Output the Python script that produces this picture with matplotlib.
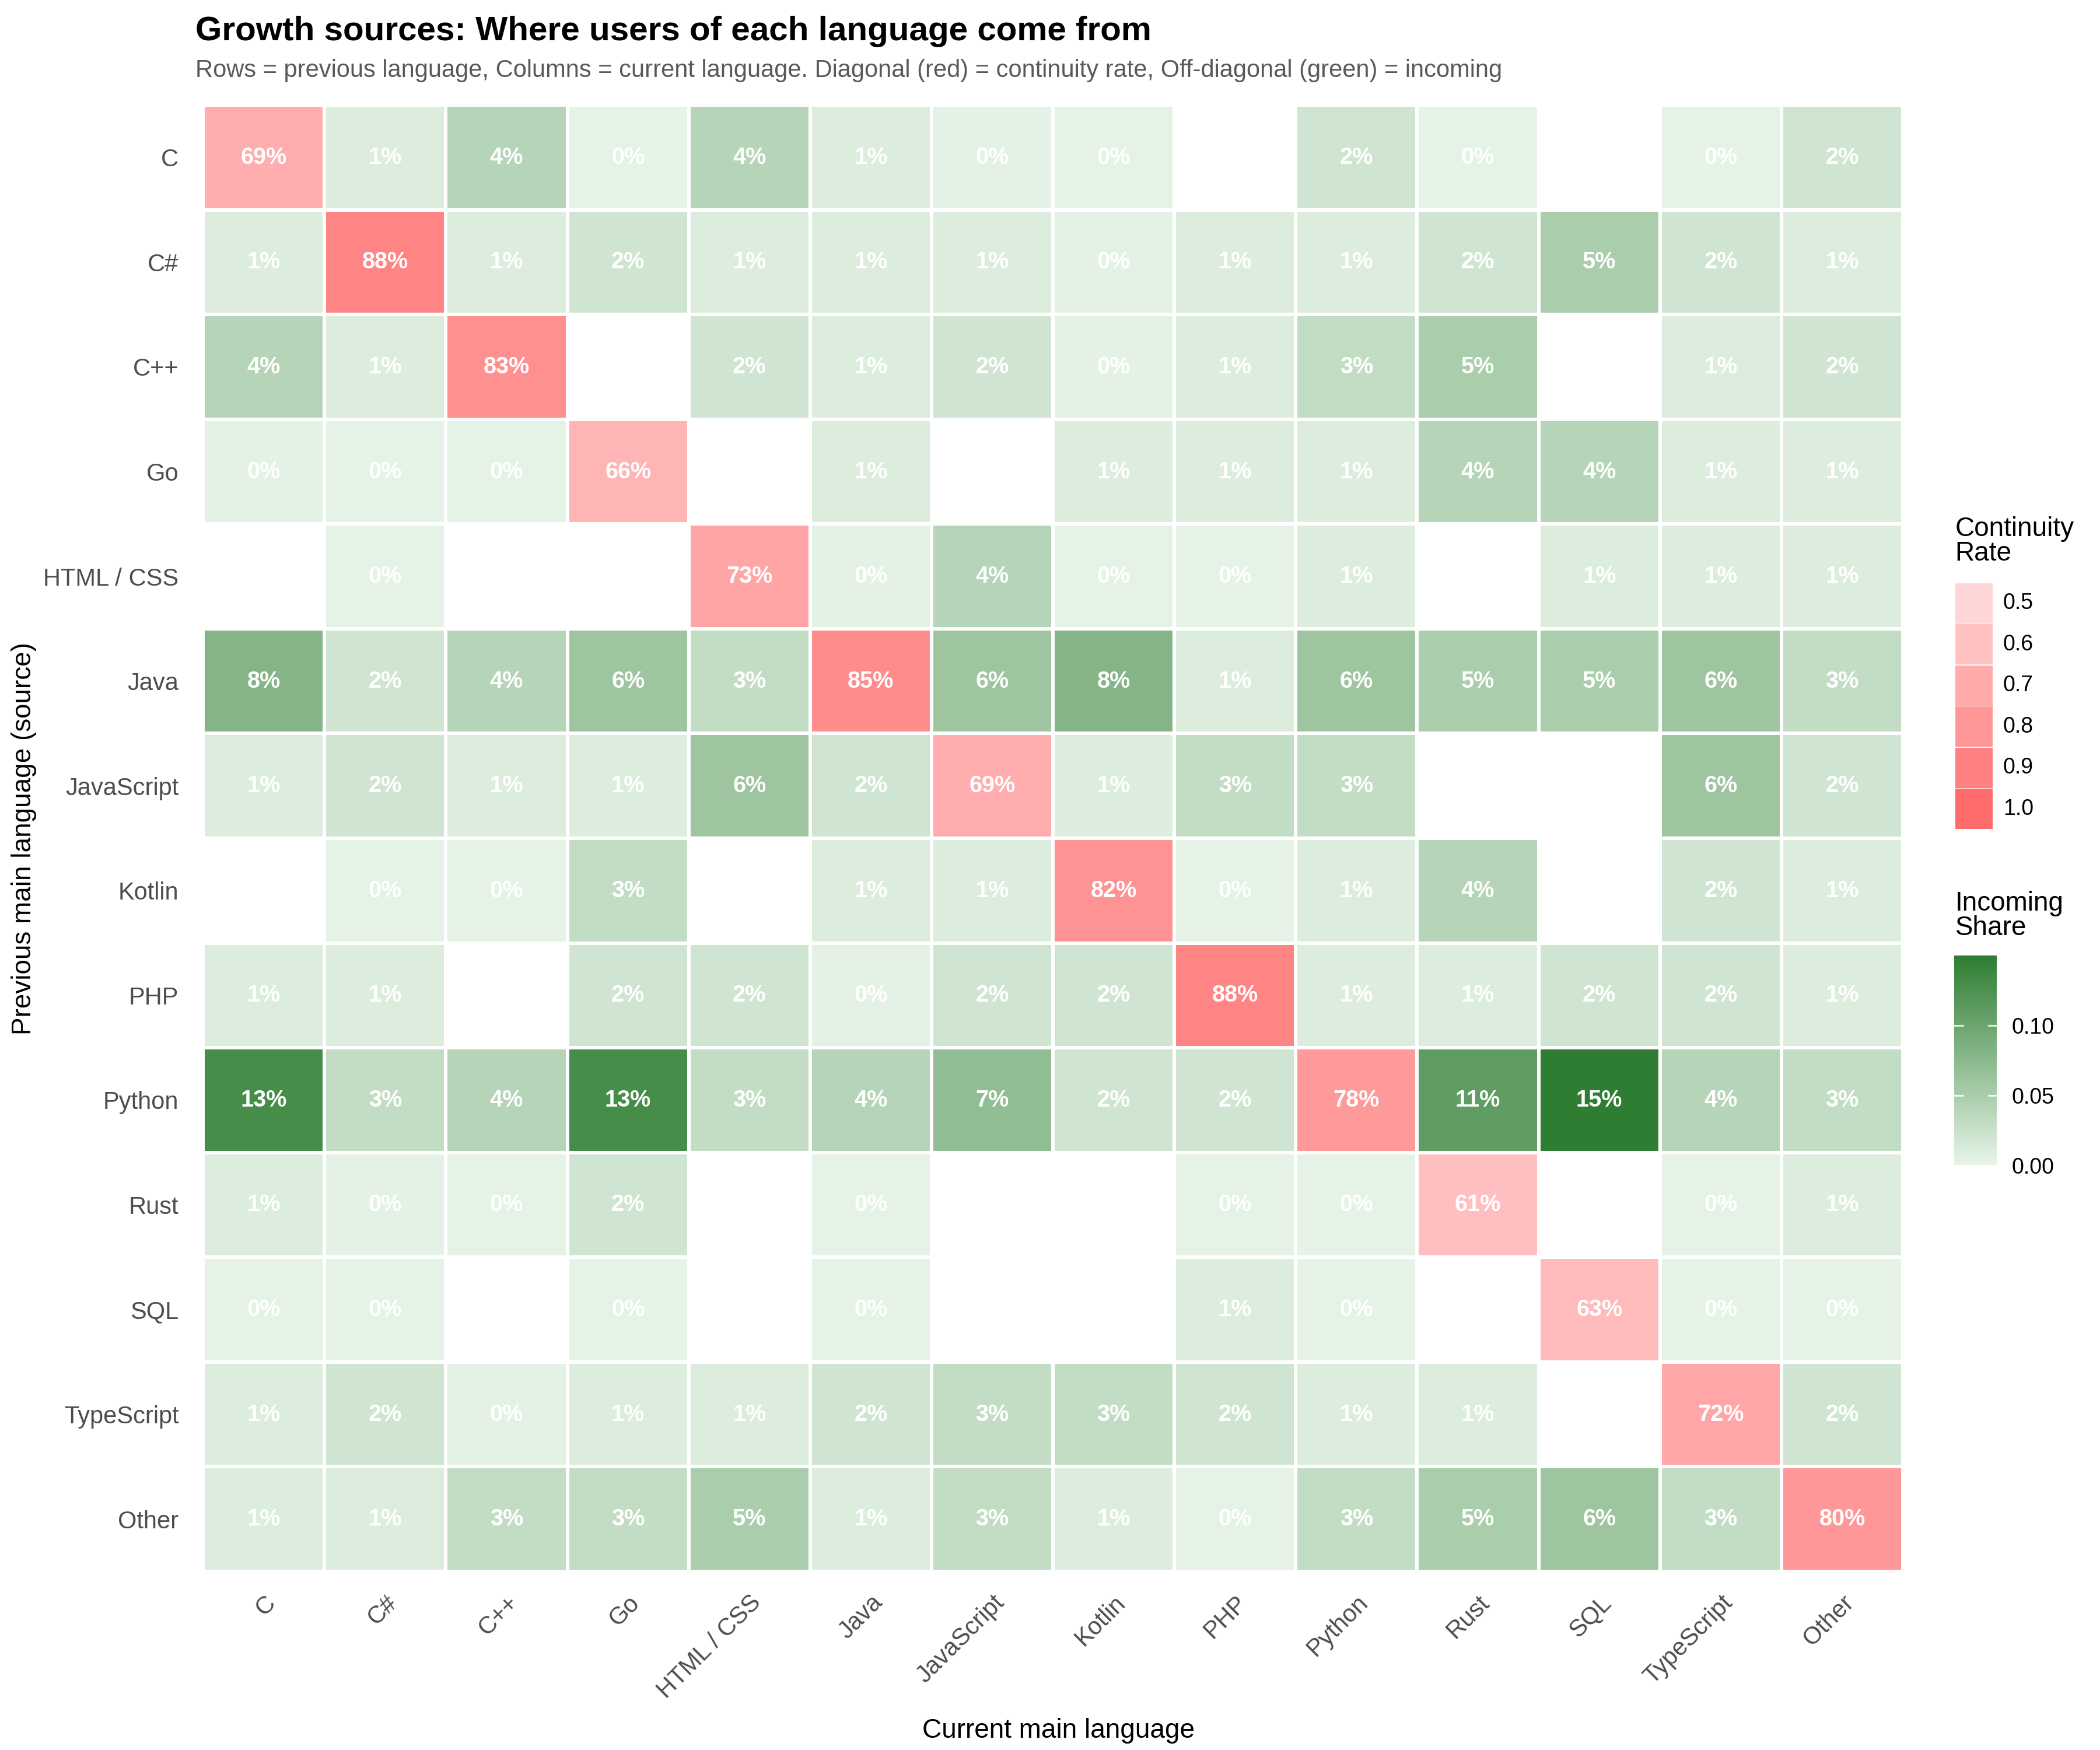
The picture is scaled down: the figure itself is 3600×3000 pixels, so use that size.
import numpy as np
import matplotlib
matplotlib.use("Agg")
import matplotlib.pyplot as plt
from matplotlib.colors import LinearSegmentedColormap, Normalize
from matplotlib.patches import Rectangle

plt.rcParams["font.family"] = ["Liberation Sans", "DejaVu Sans"]

languages = ["C", "C#", "C++", "Go", "HTML / CSS", "Java", "JavaScript", "Kotlin",
             "PHP", "Python", "Rust", "SQL", "TypeScript", "Other"]

nan = np.nan
# share in percent, rows = previous language, columns = current language
row_c = [69, 1, 4, 0.3, 4, 1, 0.4, 0.3, nan, 2, 0.3, nan, 0.3, 2]
row_csharp = [1, 88, 1, 2, 1, 1, 1, 0.4, 1, 1, 2, 5, 2, 1]
row_cpp = [4, 1, 83, nan, 2, 1, 2, 0.4, 1, 3, 5, nan, 1, 2]
row_go = [0.4, 0.3, 0.3, 66, nan, 1, nan, 1, 1, 1, 4, 4, 1, 1]
row_html = [nan, 0.3, nan, nan, 73, 0.4, 4, 0.3, 0.3, 1, nan, 1, 1, 1]
row_java = [8, 2, 4, 6, 3, 85, 6, 8, 1, 6, 5, 5, 6, 3]
row_js = [1, 2, 1, 1, 6, 2, 69, 1, 3, 3, nan, nan, 6, 2]
row_kotlin = [nan, 0.3, 0.3, 3, nan, 1, 1, 82, 0.3, 1, 4, nan, 2, 1]
row_php = [1, 1, nan, 2, 2, 0.4, 2, 2, 88, 1, 1, 2, 2, 1]
row_python = [13, 3, 4, 13, 3, 4, 7, 2, 2, 78, 11, 15, 4, 3]
row_rust = [1, 0.4, 0.3, 2, nan, 0.3, nan, nan, 0.3, 0.3, 61, nan, 0.3, 1]
row_sql = [0.3, 0.3, nan, 0.3, nan, 0.3, nan, nan, 1, 0.3, nan, 63, 0.3, 0.3]
row_ts = [1, 2, 0.4, 1, 1, 2, 3, 3, 2, 1, 1, nan, 72, 2]
row_other = [1, 1, 3, 3, 5, 1, 3, 1, 0.3, 3, 5, 6, 3, 80]

data = np.array([row_c, row_csharp, row_cpp, row_go, row_html, row_java, row_js,
                 row_kotlin, row_php, row_python, row_rust, row_sql, row_ts, row_other]) / 100

n = len(languages)
diag_mask = np.eye(n, dtype=bool)
incoming = np.where(diag_mask, np.nan, data)
continuity = np.where(diag_mask, data, np.nan)

greens = LinearSegmentedColormap.from_list("g", ["#E8F5E9", "#2E7D32"])
reds = LinearSegmentedColormap.from_list("r", ["#FFD6D8", "#FF6B6B"])
g_norm = Normalize(0, np.nanmax(incoming))
r_norm = Normalize(0.5, 1.0)

fig = plt.figure(figsize=(12, 10), dpi=300)
ax = fig.add_axes([0.0967, 0.102, 0.8094, 0.838])

ax.pcolormesh(np.ma.masked_invalid(incoming), cmap=greens, norm=g_norm,
              edgecolors="white", linewidth=1.0)
ax.pcolormesh(np.ma.masked_invalid(continuity), cmap=reds, norm=r_norm,
              edgecolors="white", linewidth=1.0)

for i in range(n):
    for j in range(n):
        v = data[i, j]
        if np.isnan(v):
            continue
        ax.text(j + 0.5, i + 0.5, f"{v * 100:.0f}%", ha="center", va="center",
                color="white", fontsize=9.5, fontweight="bold")

ax.set_xlim(0, n)
ax.set_ylim(n, 0)
ax.set_xticks(np.arange(n) + 0.5)
ax.set_yticks(np.arange(n) + 0.5)
ax.set_xticklabels(languages, rotation=45, ha="right", va="top", rotation_mode="anchor")
ax.set_yticklabels(languages)
ax.tick_params(length=0, labelsize=10, labelcolor="#4D4D4D")
ax.tick_params(axis="y", pad=10)
ax.tick_params(axis="x", pad=8)
for s in ax.spines.values():
    s.set_visible(False)

fig.text(0.504, 0.011, "Current main language", fontsize=11, ha="center", va="center")
fig.text(0.0115, 0.521, "Previous main language (source)", fontsize=11,
         ha="center", va="center", rotation=90)

fig.text(0.093, 0.977, "Growth sources: Where users of each language come from",
         fontsize=14, fontweight="bold", ha="left", va="baseline")
fig.text(0.093, 0.956, "Rows = previous language, Columns = current language. "
         "Diagonal (red) = continuity rate, Off-diagonal (green) = incoming",
         fontsize=10, color="#595959", ha="left", va="baseline")

# continuity legend
fig.text(0.931, 0.705, "Continuity\nRate", fontsize=11, ha="left", va="top", linespacing=0.95)
breaks = [0.5, 0.6, 0.7, 0.8, 0.9, 1.0]
lax = fig.add_axes([0.931, 0.526, 0.018, 0.141])
lax.set_xlim(0, 1)
lax.set_ylim(len(breaks), 0)
lax.axis("off")
for k, b in enumerate(breaks):
    lax.add_patch(Rectangle((0, k + 0.04), 1, 0.92, color=reds(r_norm(b))))
    lax.text(1.27, k + 0.5, f"{b:.1f}", fontsize=9, va="center", ha="left")

# incoming legend
fig.text(0.931, 0.491, "Incoming\nShare", fontsize=11, ha="left", va="top", linespacing=0.95)
cax = fig.add_axes([0.9306, 0.334, 0.0203, 0.120])
sm = plt.cm.ScalarMappable(norm=g_norm, cmap=greens)
cb = fig.colorbar(sm, cax=cax, ticks=[0, 0.05, 0.10])
cb.outline.set_visible(False)
cb.ax.set_yticklabels(["0.00", "0.05", "0.10"])
cb.ax.tick_params(length=0, labelsize=9, pad=6)
for t in [0, 0.05, 0.10]:
    cax.plot([0, 0.2], [t, t], color="white", lw=0.6, transform=cax.get_yaxis_transform())
    cax.plot([0.8, 1], [t, t], color="white", lw=0.6, transform=cax.get_yaxis_transform())

fig.savefig("out.png", dpi=300, facecolor="white")
